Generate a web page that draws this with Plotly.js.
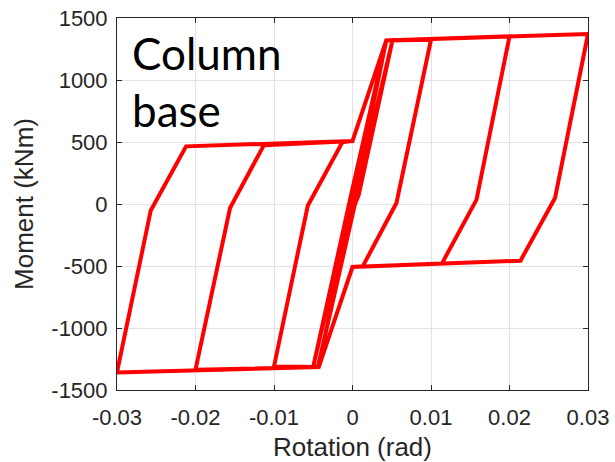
<!DOCTYPE html>
<html>
<head>
<meta charset="utf-8">
<script src="https://cdn.plot.ly/plotly-3.0.1.min.js"></script>
<style>html,body{margin:0;padding:0;background:#fff;}#chart{width:615px;height:462px;}</style>
</head>
<body>
<div id="chart"></div>
<script>
// Hysteresis path of the column base: rotation (rad) and moment (kNm)
var rotation = [
  0.0000, 0.0043, 0.0051, 0.0004, -0.0001, -0.0043, -0.0050, -0.0004, 0.0001,
  0.0043, 0.0051, 0.0008, 0.0003, -0.0044, -0.0050, -0.0007, -0.0003,
  0.0043, 0.0100, 0.0056, 0.0013, 0.0000, -0.0043, -0.0100, -0.0057, -0.0013, 0.0000,
  0.0043, 0.0200, 0.0158, 0.0114, 0.0000, -0.0043, -0.0200, -0.0156, -0.0113, 0.0000,
  0.0043, 0.0300, 0.0258, 0.0214, 0.0000, -0.0043, -0.0300, -0.0257, -0.0212, 0.0000
];
var moment = [
  0, 1319, 1320, 60, -10, -1312, -1312, -50, 20,
  1319, 1321, 75, -5, -1313, -1311, -40, 40,
  1319, 1325, 8, -503, -508, -1315, -1310, -14, 497, 508,
  1319, 1352, 35, -479, -508, -1315, -1336, -32, 473, 508,
  1319, 1371, 48, -457, -508, -1315, -1358, -52, 465, 508
];
var xTickVals = [-0.03, -0.02, -0.01, 0, 0.01, 0.02, 0.03];
var xTickText = ["-0.03", "-0.02", "-0.01", "0", "0.01", "0.02", "0.03"];
var yTickVals = [-1500, -1000, -500, 0, 500, 1000, 1500];
var yTickText = ["-1500", "-1000", "-500", "0", "500", "1000", "1500"];
var xLabel = "Rotation (rad)";
var yLabel = "Moment (kNm)";
var panelLabel = "Column<br>base";

var axisColor = "#262626";
var tickFont = {family: "Liberation Sans, Arial, sans-serif", size: 22, color: axisColor};
var titleFont = {family: "Liberation Sans, Arial, sans-serif", size: 26, color: axisColor};

var trace = {
  x: rotation, y: moment, type: "scatter", mode: "lines",
  line: {color: "#ff0000", width: 4}, hoverinfo: "skip"
};

var layout = {
  width: 615, height: 462,
  margin: {l: 117, r: 27, t: 18, b: 72},
  paper_bgcolor: "#ffffff", plot_bgcolor: "#ffffff",
  showlegend: false,
  xaxis: {
    range: [-0.03, 0.03], tickvals: xTickVals, ticktext: xTickText,
    showline: true, mirror: "ticks", linecolor: axisColor, linewidth: 1,
    ticks: "inside", ticklen: 5, tickcolor: axisColor,
    showgrid: true, gridcolor: "#e3e3e3", gridwidth: 1, zeroline: false,
    tickfont: tickFont, ticklabelstandoff: 8,
    title: {text: xLabel, font: titleFont, standoff: 8}
  },
  yaxis: {
    range: [-1500, 1500], tickvals: yTickVals, ticktext: yTickText,
    showline: true, mirror: "ticks", linecolor: axisColor, linewidth: 1,
    ticks: "inside", ticklen: 5, tickcolor: axisColor,
    showgrid: true, gridcolor: "#e3e3e3", gridwidth: 1, zeroline: false,
    tickfont: tickFont, ticklabelstandoff: 4,
    title: {text: yLabel, font: titleFont, standoff: 10}
  },
  annotations: [{
    text: panelLabel, xref: "paper", yref: "paper", x: 0.028, y: 0.98,
    xanchor: "left", yanchor: "top", align: "left", showarrow: false,
    font: {family: "Lato, Noto Sans, sans-serif", size: 44, color: "#000000"}
  }]
};

Plotly.newPlot("chart", [trace], layout, {staticPlot: true, displayModeBar: false});
</script>
</body>
</html>
